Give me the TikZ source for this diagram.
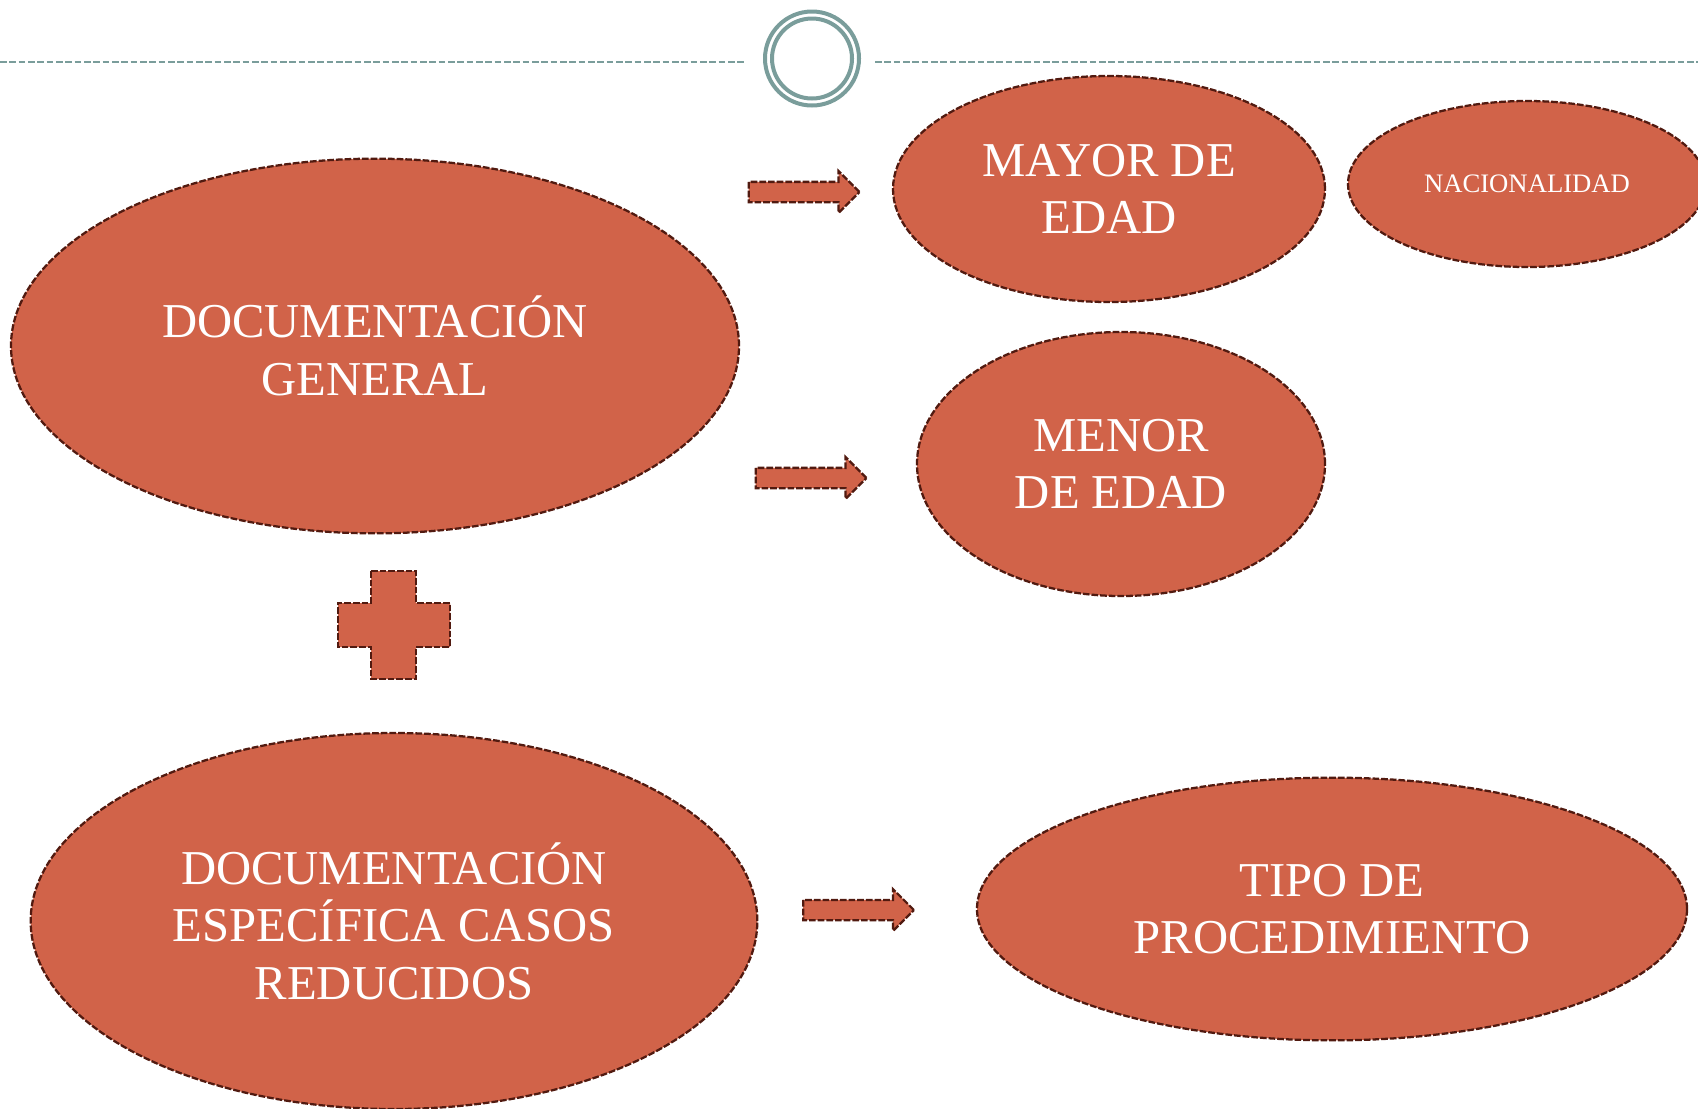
\documentclass[tikz,border=0pt]{standalone}
\usepackage{fontspec}
\setmainfont{Liberation Serif}
\usetikzlibrary{shapes.geometric,shapes.arrows}
\definecolor{coral}{HTML}{D16349}
\definecolor{rim}{HTML}{511A10}
\definecolor{slate}{HTML}{7A9D9B}
\begin{document}
\begin{tikzpicture}[x=0.75pt,y=-0.75pt,
        rimline/.style={draw=rim,line width=1.7pt,dash pattern=on 5pt off 1.5pt,
            preaction={draw=white,line width=1.7pt}},
        blob/.style={ellipse,rimline,fill=coral,inner sep=0pt,text=white,align=center,
            font=\fontsize{36.5}{43}\selectfont},
        blockarrow/.style={single arrow,rimline,fill=coral,inner sep=0pt,
            minimum height=83pt,single arrow head extend=8pt,single arrow tip angle=90}]
        \useasboundingbox (0,0) rectangle (1698,1108);
        \draw[slate,line width=1.5pt,dash pattern=on 5pt off 2pt] (0,62) -- (745,62);
        \draw[slate,line width=1.5pt,dash pattern=on 5pt off 2pt] (875,62) -- (1698,62);
        \draw[slate,line width=3pt] (812,58.5) circle (35.25pt);
        \draw[slate,line width=3pt] (812,58.5) circle (30pt);
        \node[blob,minimum width=546pt,minimum height=281pt] (gen) at (375,346){DOCUMENTACIÓN\\GENERAL};
        \node[blob,minimum width=324pt,minimum height=169.5pt] (mayor) at (1109,189){MAYOR DE\\EDAD};
        \node[blob,minimum width=268.5pt,minimum height=124.5pt,font=\fontsize{20}{24}\selectfont] (nac) at (1527,184){NACIONALIDAD};
        \node[blob,minimum width=306pt,minimum height=198pt] (menor) at (1121,464){MENOR\\DE EDAD};
        \node[blob,minimum width=545pt,minimum height=282pt] (esp) at (394,921){DOCUMENTACIÓN\\ESPECÍFICA CASOS\\REDUCIDOS};
        \node[blob,minimum width=532.5pt,minimum height=197pt] (tipo) at (1332,909){TIPO DE\\PROCEDIMIENTO};
        \node[blockarrow] (toMayor) at (799,192){\rule{0pt}{13.5pt}};
        \node[blockarrow] (toMenor) at (806,478){\rule{0pt}{13.5pt}};
        \node[blockarrow] (toTipo) at (853.5,910){\rule{0pt}{13.5pt}};
        \draw[rimline,fill=coral] (371,571) -- (416,571) -- (416,603) -- (450,603) -- (450,647)
            -- (416,647) -- (416,679) -- (371,679) -- (371,647) -- (338,647) -- (338,603)
            -- (371,603) -- cycle;
    \end{tikzpicture}
\end{document}
